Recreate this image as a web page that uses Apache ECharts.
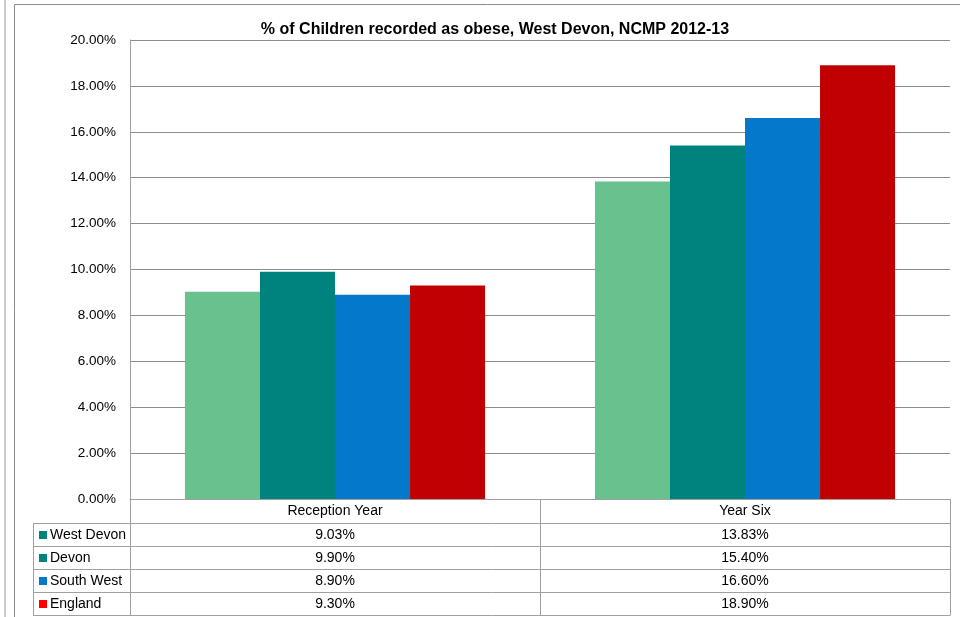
<!DOCTYPE html>
<html><head><meta charset="utf-8">
<script src="https://cdn.jsdelivr.net/npm/echarts@6/dist/echarts.min.js"></script>
<style>html,body{margin:0;padding:0;background:#fff}#c{width:960px;height:617px}</style>
</head><body><div id="c"></div>
<script>
var categories = ['Reception Year', 'Year Six'];
var seriesNames = ['West Devon', 'Devon', 'South West', 'England'];
var westDevon = [9.03, 13.83];
var devon = [9.90, 15.40];
var southWest = [8.90, 16.60];
var england = [9.30, 18.90];
var yTicks = [0, 2, 4, 6, 8, 10, 12, 14, 16, 18, 20];

var barColors = ['#67C28D', '#00827F', '#0479CC', '#C00000'];
var keyColors = ['#00827F', '#00827F', '#0479CC', '#FF0000'];
var allSeries = [westDevon, devon, southWest, england];

var chart = echarts.init(document.getElementById('c'));
var FONT = '"Liberation Sans", Arial, sans-serif';
var L = 130, R = 950, T = 40, B = 499;
var tableLeft = 33, headerBottom = 523, rowH = 23;
var lineColor = '#A0A0A0';

var graphics = [];
graphics.push({type:'line', shape:{x1:5,y1:0,x2:5,y2:617}, style:{stroke:'#CCCCCC', lineWidth:2}, silent:true});
graphics.push({type:'polyline', shape:{points:[[14.5,617],[14.5,4.5],[960,4.5]]}, style:{stroke:'#8C8C8C', lineWidth:1, fill:null}, silent:true});
var nCat = categories.length;
var colW = (R - L) / nCat;
var tableBottom = headerBottom + rowH * seriesNames.length;
for (var c = 0; c <= nCat; c++) {
  var x = Math.round(L + c * colW) + 0.5;
  graphics.push({type:'line', shape:{x1:x,y1:B,x2:x,y2:tableBottom}, style:{stroke:lineColor, lineWidth:1}, silent:true});
}
graphics.push({type:'line', shape:{x1:tableLeft+0.5,y1:headerBottom,x2:tableLeft+0.5,y2:tableBottom}, style:{stroke:lineColor, lineWidth:1}, silent:true});
for (var r = 0; r <= seriesNames.length; r++) {
  var y = headerBottom + r * rowH + 0.5;
  graphics.push({type:'line', shape:{x1:tableLeft,y1:y,x2:R+0.5,y2:y}, style:{stroke:lineColor, lineWidth:1}, silent:true});
}
for (var s = 0; s < seriesNames.length; s++) {
  var cy = headerBottom + s * rowH + rowH / 2 + 0.5;
  graphics.push({type:'rect', shape:{x:39, y:cy - 4, width:8, height:8}, style:{fill:keyColors[s]}, silent:true});
  graphics.push({type:'text', x:50, y:cy, style:{text:seriesNames[s], font:'14px ' + FONT, fill:'#000', verticalAlign:'middle', textAlign:'left'}, silent:true});
  for (var c2 = 0; c2 < nCat; c2++) {
    graphics.push({type:'text', x:L + (c2 + 0.5) * colW, y:cy, style:{text:allSeries[s][c2].toFixed(2) + '%', font:'14px ' + FONT, fill:'#000', verticalAlign:'middle', textAlign:'center'}, silent:true});
  }
}

var series = seriesNames.map(function (n, i) {
  return {name:n, type:'bar', data:allSeries[i], itemStyle:{color:barColors[i]}, barGap:'0%', barCategoryGap:'26.8%', silent:true};
});

chart.setOption({
  animation:false,
  title:{text:'% of Children recorded as obese, West Devon, NCMP 2012-13', left:490, top:17, textAlign:'center',
    textStyle:{fontFamily:FONT, fontSize:16, fontWeight:'bold', color:'#000'}},
  grid:{left:L, right:960 - R, top:T, bottom:617 - B, containLabel:false},
  xAxis:{type:'category', data:categories,
    axisLine:{lineStyle:{color:lineColor}}, axisTick:{show:false},
    axisLabel:{color:'#000', fontFamily:FONT, fontSize:14, margin:5}},
  yAxis:{type:'value', min:yTicks[0], max:yTicks[yTicks.length-1], interval:2,
    axisLine:{show:true, lineStyle:{color:lineColor}}, axisTick:{show:false},
    splitLine:{lineStyle:{color:'#8C8C8C'}},
    axisLabel:{color:'#000', fontFamily:FONT, fontSize:13.5, margin:14, formatter:function(v){return v.toFixed(2) + '%';}}},
  series:series,
  graphic:graphics
});
</script></body></html>
